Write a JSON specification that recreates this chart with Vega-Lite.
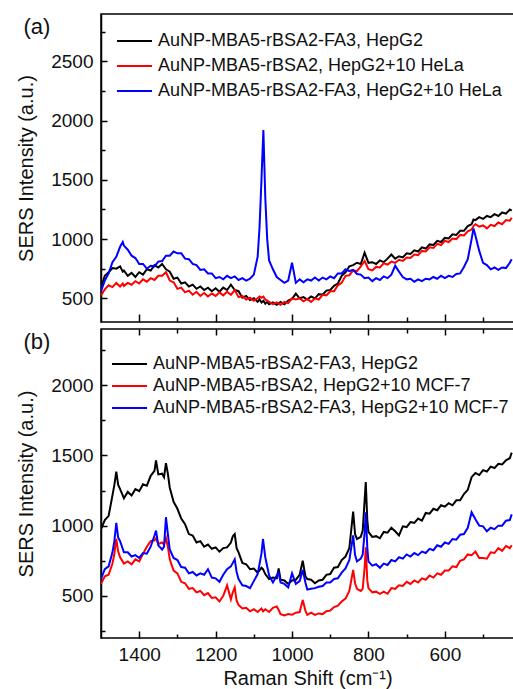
{
 "$schema": "https://vega.github.io/schema/vega-lite/v6.json",
 "padding": {"left": 15, "top": 13, "right": 0, "bottom": 0},
 "background": "white",
 "bounds": "flush",
 "spacing": 7,
 "resolve": {"scale": {"color": "independent"}, "legend": {"color": "independent"}},
 "config": {
  "font": "Liberation Sans",
  "view": {"stroke": "#000", "strokeWidth": 1.5},
  "axis": {"grid": false, "domainColor": "#000", "domainWidth": 1.5, "tickColor": "#000", "tickWidth": 1.5, "labelColor": "#111", "labelFontSize": 19, "titleFontSize": 20, "titleFontWeight": "normal", "titleColor": "#111", "labelFont": "Liberation Sans", "titleFont": "Liberation Sans"},
  "legend": {"orient": "none", "title": null, "labelFontSize": 18, "labelFont": "Liberation Sans", "labelColor": "#111", "labelLimit": 0, "symbolType": "M0,0H7", "symbolSize": 100, "symbolStrokeWidth": 2, "labelOffset": 32, "padding": 0}
 },
 "datasets": {
  "a": [
   {"w":1500,"k":595,"r":525,"b":560},{"w":1490,"k":690,"r":575,"b":650},{"w":1480,"k":720,"r":610,"b":710},{"w":1470,"k":755,"r":595,"b":805},{"w":1460,"k":750,"r":630,"b":850},{"w":1450,"k":770,"r":600,"b":935},{"w":1443,"k":725,"r":625,"b":975},{"w":1440,"k":735,"r":605,"b":945},{"w":1430,"k":690,"r":630,"b":910},{"w":1420,"k":715,"r":615,"b":860},{"w":1410,"k":680,"r":645,"b":840},{"w":1400,"k":720,"r":625,"b":790},{"w":1390,"k":700,"r":660,"b":790},{"w":1380,"k":745,"r":640,"b":750},{"w":1370,"k":735,"r":670,"b":775},{"w":1360,"k":780,"r":655,"b":770},{"w":1350,"k":760,"r":690,"b":810},{"w":1340,"k":790,"r":690,"b":815},{"w":1330,"k":745,"r":720,"b":860},{"w":1320,"k":725,"r":650,"b":860},{"w":1310,"k":665,"r":635,"b":895},{"w":1300,"k":675,"r":580,"b":880},{"w":1290,"k":625,"r":590,"b":880},{"w":1280,"k":635,"r":550,"b":835},{"w":1270,"k":600,"r":565,"b":830},{"w":1260,"k":615,"r":530,"b":790},{"w":1250,"k":580,"r":555,"b":780},{"w":1240,"k":600,"r":520,"b":740},{"w":1230,"k":570,"r":545,"b":745},{"w":1220,"k":590,"r":515,"b":710},{"w":1210,"k":560,"r":540,"b":710},{"w":1200,"k":585,"r":520,"b":670},{"w":1190,"k":555,"r":550,"b":680},{"w":1180,"k":590,"r":525,"b":660},{"w":1170,"k":570,"r":555,"b":690},{"w":1160,"k":615,"r":530,"b":670},{"w":1150,"k":570,"r":570,"b":685},{"w":1140,"k":560,"r":510,"b":655},{"w":1130,"k":505,"r":520,"b":670},{"w":1120,"k":520,"r":490,"b":650},{"w":1110,"k":485,"r":505,"b":665},{"w":1100,"k":500,"r":480,"b":700},{"w":1090,"k":470,"r":500,"b":850},{"w":1085,"k":490,"r":515,"b":1100},{"w":1080,"k":465,"r":505,"b":1500},{"w":1075,"k":480,"r":515,"b":1920},{"w":1070,"k":455,"r":490,"b":1350},{"w":1065,"k":470,"r":480,"b":1000},{"w":1060,"k":450,"r":470,"b":820},{"w":1050,"k":465,"r":450,"b":745},{"w":1040,"k":445,"r":465,"b":680},{"w":1030,"k":470,"r":445,"b":655},{"w":1020,"k":450,"r":470,"b":630},{"w":1010,"k":480,"r":460,"b":650},{"w":1000,"k":495,"r":500,"b":800},{"w":990,"k":540,"r":490,"b":630},{"w":980,"k":500,"r":500,"b":660},{"w":970,"k":510,"r":475,"b":635},{"w":960,"k":490,"r":495,"b":660},{"w":950,"k":515,"r":470,"b":650},{"w":940,"k":500,"r":500,"b":675},{"w":930,"k":535,"r":490,"b":650},{"w":920,"k":530,"r":530,"b":675},{"w":910,"k":565,"r":525,"b":660},{"w":900,"k":570,"r":560,"b":685},{"w":890,"k":605,"r":560,"b":670},{"w":880,"k":625,"r":610,"b":710},{"w":870,"k":690,"r":630,"b":710},{"w":860,"k":720,"r":690,"b":745},{"w":850,"k":770,"r":695,"b":730},{"w":840,"k":780,"r":735,"b":740},{"w":830,"k":800,"r":730,"b":705},{"w":820,"k":790,"r":770,"b":700},{"w":810,"k":885,"r":815,"b":670},{"w":800,"k":800,"r":745,"b":675},{"w":790,"k":805,"r":735,"b":645},{"w":780,"k":790,"r":765,"b":670},{"w":770,"k":820,"r":760,"b":655},{"w":760,"k":805,"r":795,"b":685},{"w":750,"k":835,"r":785,"b":670},{"w":740,"k":870,"r":810,"b":700},{"w":730,"k":835,"r":800,"b":775},{"w":720,"k":855,"r":825,"b":725},{"w":710,"k":845,"r":815,"b":680},{"w":700,"k":880,"r":845,"b":660},{"w":690,"k":875,"r":840,"b":665},{"w":680,"k":905,"r":870,"b":640},{"w":670,"k":895,"r":865,"b":660},{"w":660,"k":930,"r":900,"b":645},{"w":650,"k":920,"r":895,"b":665},{"w":640,"k":955,"r":930,"b":660},{"w":630,"k":950,"r":925,"b":680},{"w":620,"k":985,"r":960,"b":665},{"w":610,"k":975,"r":950,"b":690},{"w":600,"k":1010,"r":985,"b":670},{"w":590,"k":1005,"r":975,"b":690},{"w":580,"k":1040,"r":1005,"b":680},{"w":570,"k":1035,"r":1000,"b":705},{"w":560,"k":1070,"r":1035,"b":710},{"w":550,"k":1070,"r":1030,"b":765},{"w":540,"k":1110,"r":1065,"b":830},{"w":530,"k":1125,"r":1080,"b":1000},{"w":525,"k":1165,"r":1110,"b":1090},{"w":520,"k":1160,"r":1125,"b":1030},{"w":510,"k":1185,"r":1105,"b":900},{"w":500,"k":1170,"r":1115,"b":800},{"w":490,"k":1195,"r":1090,"b":780},{"w":480,"k":1185,"r":1120,"b":745},{"w":470,"k":1210,"r":1110,"b":760},{"w":460,"k":1195,"r":1140,"b":740},{"w":450,"k":1225,"r":1125,"b":760},{"w":440,"k":1215,"r":1160,"b":755},{"w":430,"k":1250,"r":1155,"b":800},{"w":425,"k":1240,"r":1180,"b":830}
  ],
  "b": [
   {"w":1500,"k":975,"r":585,"b":620},{"w":1490,"k":1040,"r":640,"b":690},{"w":1480,"k":1070,"r":650,"b":710},{"w":1470,"k":1215,"r":730,"b":810},{"w":1465,"k":1290,"r":800,"b":890},{"w":1460,"k":1385,"r":905,"b":1020},{"w":1455,"k":1290,"r":815,"b":915},{"w":1450,"k":1260,"r":775,"b":890},{"w":1440,"k":1195,"r":730,"b":810},{"w":1430,"k":1240,"r":745,"b":810},{"w":1420,"k":1215,"r":725,"b":780},{"w":1410,"k":1260,"r":760,"b":790},{"w":1400,"k":1245,"r":745,"b":770},{"w":1390,"k":1295,"r":800,"b":805},{"w":1380,"k":1285,"r":850,"b":800},{"w":1370,"k":1355,"r":890,"b":850},{"w":1360,"k":1390,"r":895,"b":930},{"w":1356,"k":1465,"r":910,"b":965},{"w":1350,"k":1365,"r":870,"b":860},{"w":1340,"k":1370,"r":880,"b":830},{"w":1335,"k":1345,"r":865,"b":850},{"w":1330,"k":1445,"r":910,"b":1060},{"w":1325,"k":1370,"r":850,"b":940},{"w":1320,"k":1270,"r":760,"b":830},{"w":1310,"k":1170,"r":680,"b":770},{"w":1300,"k":1120,"r":660,"b":755},{"w":1290,"k":1050,"r":600,"b":705},{"w":1280,"k":1010,"r":590,"b":700},{"w":1270,"k":940,"r":550,"b":660},{"w":1260,"k":930,"r":555,"b":670},{"w":1250,"k":880,"r":525,"b":645},{"w":1240,"k":890,"r":535,"b":660},{"w":1230,"k":850,"r":505,"b":650},{"w":1220,"k":865,"r":520,"b":690},{"w":1210,"k":835,"r":485,"b":630},{"w":1200,"k":845,"r":490,"b":625},{"w":1190,"k":815,"r":460,"b":600},{"w":1180,"k":840,"r":500,"b":650},{"w":1170,"k":845,"r":575,"b":690},{"w":1160,"k":880,"r":475,"b":710},{"w":1155,"k":925,"r":525,"b":735},{"w":1150,"k":940,"r":560,"b":760},{"w":1145,"k":840,"r":465,"b":670},{"w":1140,"k":810,"r":435,"b":620},{"w":1130,"k":735,"r":410,"b":575},{"w":1120,"k":725,"r":415,"b":570},{"w":1110,"k":690,"r":390,"b":555},{"w":1100,"k":695,"r":405,"b":605},{"w":1090,"k":665,"r":385,"b":655},{"w":1080,"k":700,"r":410,"b":800},{"w":1076,"k":690,"r":390,"b":905},{"w":1070,"k":655,"r":405,"b":775},{"w":1060,"k":620,"r":385,"b":645},{"w":1050,"k":630,"r":415,"b":595},{"w":1040,"k":625,"r":425,"b":645},{"w":1035,"k":695,"r":400,"b":665},{"w":1030,"k":615,"r":370,"b":595},{"w":1020,"k":610,"r":360,"b":585},{"w":1010,"k":585,"r":370,"b":560},{"w":1000,"k":610,"r":365,"b":660},{"w":990,"k":615,"r":380,"b":585},{"w":980,"k":650,"r":385,"b":605},{"w":972,"k":750,"r":470,"b":685},{"w":965,"k":640,"r":395,"b":595},{"w":960,"k":620,"r":365,"b":545},{"w":950,"k":615,"r":380,"b":550},{"w":940,"k":590,"r":365,"b":555},{"w":930,"k":610,"r":375,"b":565},{"w":920,"k":615,"r":370,"b":570},{"w":910,"k":650,"r":390,"b":595},{"w":900,"k":655,"r":395,"b":595},{"w":890,"k":700,"r":420,"b":620},{"w":880,"k":705,"r":430,"b":625},{"w":870,"k":755,"r":460,"b":665},{"w":860,"k":780,"r":480,"b":695},{"w":850,"k":840,"r":535,"b":755},{"w":840,"k":1100,"r":685,"b":930},{"w":835,"k":940,"r":590,"b":790},{"w":830,"k":905,"r":550,"b":745},{"w":820,"k":920,"r":535,"b":765},{"w":815,"k":965,"r":550,"b":795},{"w":810,"k":1180,"r":700,"b":950},{"w":807,"k":1310,"r":845,"b":1095},{"w":803,"k":1040,"r":610,"b":845},{"w":800,"k":955,"r":555,"b":745},{"w":790,"k":920,"r":525,"b":715},{"w":780,"k":925,"r":530,"b":725},{"w":770,"k":910,"r":515,"b":700},{"w":760,"k":955,"r":530,"b":730},{"w":750,"k":950,"r":515,"b":720},{"w":740,"k":985,"r":555,"b":755},{"w":730,"k":960,"r":550,"b":745},{"w":720,"k":930,"r":575,"b":775},{"w":710,"k":995,"r":570,"b":765},{"w":700,"k":990,"r":600,"b":795},{"w":690,"k":1025,"r":585,"b":780},{"w":680,"k":1020,"r":610,"b":805},{"w":670,"k":1050,"r":595,"b":790},{"w":660,"k":1035,"r":625,"b":815},{"w":650,"k":1090,"r":615,"b":805},{"w":640,"k":1085,"r":645,"b":835},{"w":630,"k":1120,"r":630,"b":825},{"w":620,"k":1110,"r":660,"b":860},{"w":610,"k":1145,"r":650,"b":850},{"w":600,"k":1135,"r":680,"b":880},{"w":590,"k":1160,"r":680,"b":870},{"w":580,"k":1145,"r":710,"b":905},{"w":570,"k":1180,"r":705,"b":900},{"w":560,"k":1180,"r":750,"b":935},{"w":550,"k":1225,"r":760,"b":940},{"w":540,"k":1255,"r":795,"b":985},{"w":530,"k":1345,"r":790,"b":1095},{"w":520,"k":1375,"r":815,"b":1045},{"w":510,"k":1360,"r":770,"b":1000},{"w":500,"k":1395,"r":770,"b":995},{"w":490,"k":1385,"r":765,"b":960},{"w":480,"k":1420,"r":810,"b":985},{"w":470,"k":1410,"r":805,"b":975},{"w":460,"k":1440,"r":840,"b":1000},{"w":450,"k":1435,"r":820,"b":1000},{"w":440,"k":1465,"r":855,"b":1035},{"w":430,"k":1480,"r":840,"b":1040},{"w":425,"k":1520,"r":860,"b":1080}
  ]
 },
 "vconcat": [
  {
   "width": 413,
   "height": 308,
   "layer": [
    {
     "data": {"name": "a"},
     "transform": [{"fold": ["k", "r", "b"], "as": ["s", "i"]}],
     "mark": {"type": "line", "strokeWidth": 2, "clip": true},
     "encoding": {
      "x": {"field": "w", "type": "quantitative", "scale": {"domain": [419, 1500], "reverse": true, "nice": false, "zero": false},
       "axis": {"values": [1400, 1300, 1200, 1100, 1000, 900, 800, 700, 600, 500], "labels": false, "title": null, "domain": false,
        "tickSize": {"condition": {"test": "datum.value % 200 === 0", "value": -8}, "value": -5}}},
      "y": {"field": "i", "type": "quantitative", "scale": {"domain": [300, 2900], "nice": false, "zero": false},
       "axis": {"values": [500, 750, 1000, 1250, 1500, 1750, 2000, 2250, 2500, 2750], "format": "d",
        "labelExpr": "datum.value % 500 === 0 ? datum.label : ''",
        "title": "SERS Intensity (a.u.)", "labelPadding": 14, "titlePadding": 14,
        "tickSize": {"condition": {"test": "datum.value % 500 === 0", "value": -6}, "value": -4}}},
      "color": {"field": "s", "type": "nominal", "scale": {"domain": ["k", "r", "b"], "range": ["#000000", "#ff0000", "#0000ff"]},
       "legend": {"legendX": 7, "legendY": 18, "rowPadding": 7,
        "labelExpr": "{'k': 'AuNP-MBA5-rBSA2-FA3, HepG2', 'r': 'AuNP-MBA5-rBSA2, HepG2+10 HeLa', 'b': 'AuNP-MBA5-rBSA2-FA3, HepG2+10 HeLa'}[datum.label]"}}
     }
    },
    {
     "data": {"values": [{"t": "(a)"}]},
     "mark": {"type": "text", "fontSize": 22, "font": "Liberation Sans", "color": "#111", "align": "center", "baseline": "middle", "clip": false},
     "encoding": {
      "x": {"datum": 1668, "type": "quantitative",
       "axis": {"values": [1400, 1300, 1200, 1100, 1000, 900, 800, 700, 600, 500], "labels": false, "title": null, "domain": false,
        "tickSize": {"condition": {"test": "datum.value % 200 === 0", "value": -8}, "value": -5}}},
      "y": {"datum": 2787, "type": "quantitative",
       "axis": {"values": [500, 750, 1000, 1250, 1500, 1750, 2000, 2250, 2500, 2750], "format": "d",
        "labelExpr": "datum.value % 500 === 0 ? datum.label : ''",
        "title": "SERS Intensity (a.u.)", "labelPadding": 14, "titlePadding": 14,
        "tickSize": {"condition": {"test": "datum.value % 500 === 0", "value": -6}, "value": -4}}},
      "text": {"field": "t"}
     }
    }
   ]
  },
  {
   "width": 413,
   "height": 309,
   "resolve": {"axis": {"x": "independent"}, "scale": {"color": "independent"}, "legend": {"color": "independent"}},
   "layer": [
    {
     "data": {"name": "b"},
     "transform": [{"fold": ["k", "r", "b"], "as": ["s", "i"]}],
     "mark": {"type": "line", "strokeWidth": 2, "clip": true},
     "encoding": {
      "x": {"field": "w", "type": "quantitative", "scale": {"domain": [419, 1500], "reverse": true, "nice": false, "zero": false},
       "axis": {"orient": "bottom", "values": [1400, 1300, 1200, 1100, 1000, 900, 800, 700, 600, 500], "format": "d",
        "labelExpr": "datum.value % 200 === 0 ? datum.label : ''", "domain": false,
        "title": "Raman Shift (cm⁻¹)", "labelPadding": 14, "titlePadding": 4,
        "tickSize": {"condition": {"test": "datum.value % 200 === 0", "value": -7}, "value": -4}}},
      "y": {"field": "i", "type": "quantitative", "scale": {"domain": [200, 2400], "nice": false, "zero": false},
       "axis": {"values": [250, 500, 750, 1000, 1250, 1500, 1750, 2000, 2250], "format": "d",
        "labelExpr": "datum.value % 500 === 0 ? datum.label : ''",
        "title": "SERS Intensity (a.u.)", "labelPadding": 14, "titlePadding": 14,
        "tickSize": {"condition": {"test": "datum.value % 500 === 0", "value": -6}, "value": -4}}},
      "color": {"field": "s", "type": "nominal", "scale": {"domain": ["k", "r", "b"], "range": ["#000000", "#ff0000", "#0000ff"]},
       "legend": {"legendX": 2, "legendY": 26, "rowPadding": 4,
        "labelExpr": "{'k': 'AuNP-MBA5-rBSA2-FA3, HepG2', 'r': 'AuNP-MBA5-rBSA2, HepG2+10 MCF-7', 'b': 'AuNP-MBA5-rBSA2-FA3, HepG2+10 MCF-7'}[datum.label]"}}
     }
    },
    {
     "data": {"values": [{"t": "(b)"}]},
     "mark": {"type": "text", "fontSize": 22, "font": "Liberation Sans", "color": "#111", "align": "center", "baseline": "middle", "clip": false},
     "encoding": {
      "x": {"datum": 1668, "type": "quantitative",
       "axis": {"orient": "top", "values": [1400, 1300, 1200, 1100, 1000, 900, 800, 700, 600, 500], "labels": false, "title": null, "domain": false,
        "tickSize": {"condition": {"test": "datum.value % 200 === 0", "value": -6}, "value": -4}}},
      "y": {"datum": 2311, "type": "quantitative",
       "axis": {"values": [250, 500, 750, 1000, 1250, 1500, 1750, 2000, 2250], "format": "d",
        "labelExpr": "datum.value % 500 === 0 ? datum.label : ''",
        "title": "SERS Intensity (a.u.)", "labelPadding": 14, "titlePadding": 14,
        "tickSize": {"condition": {"test": "datum.value % 500 === 0", "value": -6}, "value": -4}}},
      "text": {"field": "t"}
     }
    }
   ]
  }
 ]
}
